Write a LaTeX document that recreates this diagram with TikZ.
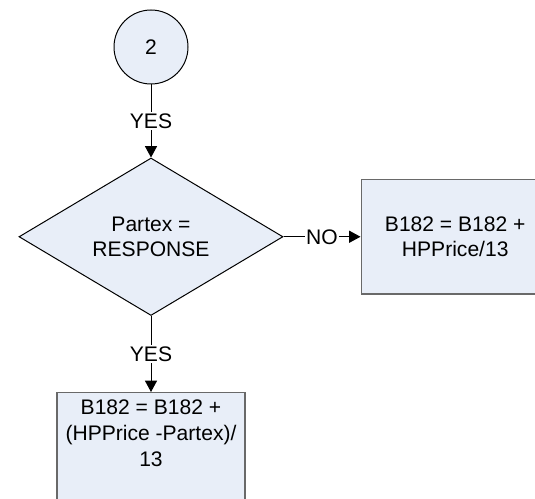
\documentclass[tikz,border=0pt]{standalone}
\usepackage{fontspec}
\setmainfont{Liberation Sans}
\usetikzlibrary{arrows.meta,shapes.geometric,positioning}
\definecolor{flowfill}{RGB}{232,238,248}
\definecolor{boxedge}{RGB}{105,105,105}
\tikzset{
  flow text/.style={font=\fontsize{15.8}{19.3}\selectfont,align=center},
  connector node/.style={draw,circle,line width=0.75pt,fill=flowfill,
    minimum size=55.5pt,inner sep=0pt,flow text},
  decision node/.style={draw,diamond,line width=0.75pt,fill=flowfill,
    minimum width=198pt,minimum height=115.5pt,inner sep=0pt,flow text},
  process node/.style={draw=boxedge,line width=1.1pt,fill=flowfill,
    minimum width=141pt,minimum height=86pt,inner sep=2pt,flow text},
  flow arrow/.style={-{Triangle[length=8.5pt,width=9pt]},line width=0.75pt},
  edge label/.style={fill=white,inner sep=1pt,flow text},
}
\begin{document}
\begin{tikzpicture}
  \useasboundingbox (0,0) rectangle (401.25pt,-374.25pt);
  \clip (0,0) rectangle (401.25pt,-374.25pt);
  \node[connector node] (conn2) at (113.25pt,-35.25pt) {2};
  \node[decision node,below=54.75pt of conn2] (partex) {Partex =\\RESPONSE};
  \node[process node,right=57.75pt of partex] (nobox) {B182 = B182 +\\HPPrice/13};
  \node[process node,below=57pt of partex,minimum height=87pt]
    (yesbox) {B182 = B182 +\\(HPPrice -Partex)/\\13\\[7pt] \mbox{}};
  \draw[flow arrow] (conn2) -- node[edge label] {YES} (partex);
  \draw[flow arrow] (partex) -- node[edge label] {NO} (nobox);
  \draw[flow arrow] (partex) -- node[edge label] {YES} (yesbox);
\end{tikzpicture}
\end{document}
